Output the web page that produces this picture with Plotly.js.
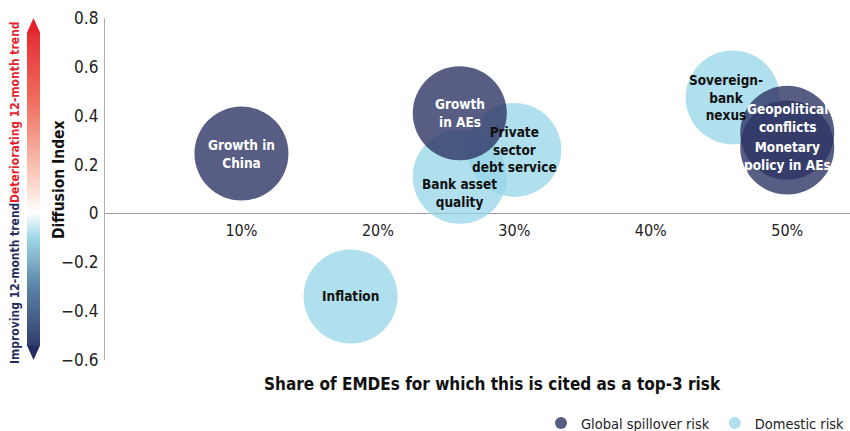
<!DOCTYPE html>
<html><head><meta charset="utf-8">
<script src="https://cdn.plot.ly/plotly-3.0.1.min.js"></script>
<style>body{margin:0;padding:0;background:#fff}#chart{width:850px;height:431px}</style>
</head><body><div id="chart"></div>
<script>
// Data
var globalLabels = ['Growth in<br>China', 'Growth<br>in AEs', 'Geopolitical<br>conflicts', 'Monetary<br>policy in AEs'];
var globalShare = [0.10, 0.26, 0.50, 0.50];
var globalDiffusion = [0.245, 0.41, 0.33, 0.27];

var domesticLabels = ['Private<br>sector<br>debt service', 'Bank asset<br>quality', 'Inflation', 'Sovereign-<br>bank<br>nexus'];
var domesticShare = [0.30, 0.26, 0.18, 0.46];
var domesticDiffusion = [0.26, 0.15, -0.34, 0.475];

var xTickVals = [0.1, 0.2, 0.3, 0.4, 0.5];
var xTickText = ['10%', '20%', '30%', '40%', '50%'];
var yTickVals = [-0.6, -0.4, -0.2, 0, 0.2, 0.4, 0.6, 0.8];
var yTickText = ['\u22120.6', '\u22120.4', '\u22120.2', '0', '0.2', '0.4', '0.6', '0.8'];

// Styling
var FONT = '"DejaVu Sans Condensed", "DejaVu Sans", sans-serif';
var W = 850, H = 431, L = 105, R = 0, T = 18, B = 71;
var PW = W - L - R, PH = H - T - B;
function px(x){ return (x - L) / PW; }
function py(y){ return (H - B - y) / PH; }
var globalColor = 'rgba(46,52,100,0.8)';
var domesticColor = 'rgba(150,214,232,0.75)';
var labelShiftGlobal = [[0,0], [0,0], [0,15], [0,-9]];
var labelShiftDomestic = [[0,0], [0,-16], [0,0], [-7,0]];

var traces = [
  {type:'scatter', mode:'markers', name:'Domestic risk', x:domesticShare, y:domesticDiffusion,
   marker:{size:94, color:domesticColor, line:{width:0}}, legendrank:2, hoverinfo:'skip'},
  {type:'scatter', mode:'markers', name:'Global spillover risk', x:globalShare, y:globalDiffusion,
   marker:{size:94, color:globalColor, line:{width:0}}, legendrank:1, hoverinfo:'skip'}
];

var annotations = [];
globalLabels.forEach(function(t,i){
  annotations.push({x:globalShare[i], y:globalDiffusion[i], xref:'x', yref:'y', text:'<b>'+t+'</b>',
    showarrow:false, xshift:labelShiftGlobal[i][0], yshift:labelShiftGlobal[i][1], font:{family:FONT, size:13.5, color:'#ffffff'}});
});
domesticLabels.forEach(function(t,i){
  annotations.push({x:domesticShare[i], y:domesticDiffusion[i], xref:'x', yref:'y', text:'<b>'+t+'</b>',
    showarrow:false, xshift:labelShiftDomestic[i][0], yshift:labelShiftDomestic[i][1], font:{family:FONT, size:13.5, color:'#111111'}});
});
annotations.push({x:px(492), y:py(384), xref:'paper', yref:'paper', text:'<b>Share of EMDEs for which this is cited as a top-3 risk</b>',
  showarrow:false, xanchor:'center', yanchor:'middle', font:{family:FONT, size:17, color:'#111'}});
annotations.push({x:px(59), y:py(180), xref:'paper', yref:'paper', text:'<b>Diffusion Index</b>', textangle:-90,
  showarrow:false, xanchor:'center', yanchor:'middle', font:{family:FONT, size:15.5, color:'#111'}});
annotations.push({x:px(15), y:py(112), xref:'paper', yref:'paper', text:'<b>Deteriorating 12-month trend</b>', textangle:-90,
  showarrow:false, xanchor:'center', yanchor:'middle', font:{family:FONT, size:12, color:'#e3242b'}});
annotations.push({x:px(15), y:py(284), xref:'paper', yref:'paper', text:'<b>Improving 12-month trend</b>', textangle:-90,
  showarrow:false, xanchor:'center', yanchor:'middle', font:{family:FONT, size:12, color:'#262d5e'}});

// gradient bar
var stops = [[0,[228,32,42]],[0.25,[240,112,96]],[0.45,[248,200,184]],[0.57,[255,255,255]],[0.64,[160,219,232]],[0.78,[93,134,168]],[1,[38,45,94]]];
function col(f){
  for (var i=1;i<stops.length;i++){
    if (f<=stops[i][0]){
      var a=stops[i-1], b=stops[i], t=(f-a[0])/(b[0]-a[0]);
      var c=a[1].map(function(v,k){return Math.round(v+(b[1][k]-v)*t);});
      return 'rgb('+c.join(',')+')';
    }
  }
  return 'rgb(38,45,94)';
}
var shapes = [];
var barL = 27, barR = 40, tipTop = 18, bodyTop = 32, bodyBot = 346, tipBot = 360;
for (var yy = bodyTop; yy < bodyBot; yy += 2){
  var f = (yy + 1 - tipTop) / (tipBot - tipTop);
  shapes.push({type:'rect', xref:'paper', yref:'paper', x0:px(barL), x1:px(barR), y0:py(yy), y1:py(Math.min(yy+2.5,bodyBot)),
    fillcolor:col(f), line:{width:0}, layer:'above'});
}
shapes.push({type:'path', xref:'paper', yref:'paper', path:'M '+px(barL)+' '+py(bodyTop+0.5)+' L '+px((barL+barR)/2)+' '+py(tipTop)+' L '+px(barR)+' '+py(bodyTop+0.5)+' Z',
  fillcolor:col(0), line:{width:0}});
shapes.push({type:'path', xref:'paper', yref:'paper', path:'M '+px(barL)+' '+py(bodyBot-0.5)+' L '+px((barL+barR)/2)+' '+py(tipBot)+' L '+px(barR)+' '+py(bodyBot-0.5)+' Z',
  fillcolor:col(1), line:{width:0}});

var layout = {
  width:W, height:H, margin:{l:L, r:R, t:T, b:B, autoexpand:false},
  paper_bgcolor:'#fff', plot_bgcolor:'#fff',
  font:{family:FONT, size:15, color:'#222'},
  showlegend:true,
  legend:{orientation:'h', x:px(541), y:py(423), xanchor:'left', yanchor:'middle',
    font:{family:FONT, size:14.5, color:'#222'}, itemsizing:'constant', tracegroupgap:0, itemwidth:30},
  xaxis:{range:[0,0.546], tickvals:xTickVals, ticktext:xTickText, anchor:'free', position:0.6/1.4,
    showgrid:false, zeroline:false, showline:false, ticks:'', ticklabelstandoff:6,
    tickfont:{family:FONT, size:16, color:'#222'}},
  yaxis:{range:[-0.6,0.8], tickvals:yTickVals, ticktext:yTickText, showgrid:false,
    zeroline:true, zerolinecolor:'#9a9a9a', zerolinewidth:1.2, showline:true, linecolor:'#b0b0b0', linewidth:1.2,
    ticks:'', ticklabelstandoff:2, tickfont:{family:FONT, size:17, color:'#222'}},
  annotations:annotations, shapes:shapes
};
Plotly.newPlot('chart', traces, layout, {displayModeBar:false, staticPlot:true});
</script></body></html>
